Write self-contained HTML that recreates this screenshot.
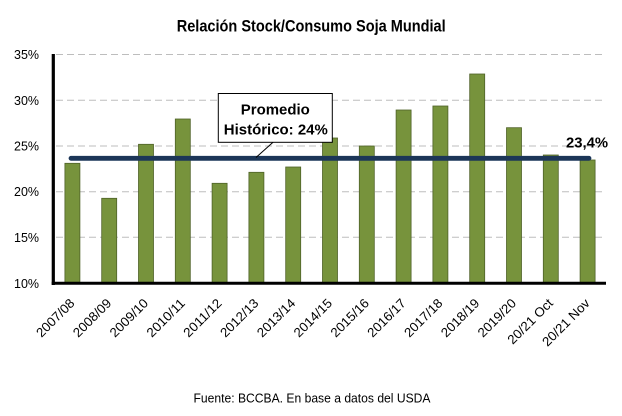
<!DOCTYPE html>
<html>
<head>
<meta charset="utf-8">
<style>
  html, body { margin:0; padding:0; background:#ffffff; }
  body { width:622px; height:416px; overflow:hidden; }
  svg { display:block; }
  text { font-family: "Liberation Sans", Arial, sans-serif; fill:#000; }
</style>
</head>
<body>
<svg width="622" height="416" viewBox="0 0 622 416" xmlns="http://www.w3.org/2000/svg">
  <rect x="0" y="0" width="622" height="416" fill="#ffffff"/>

  <!-- Title -->
  <text x="176.7" y="31.5" font-size="17" font-weight="bold" textLength="269" lengthAdjust="spacingAndGlyphs">Relación Stock/Consumo Soja Mundial</text>

  <!-- Gridlines -->
  <g stroke="#bdbdbd" stroke-width="1" stroke-dasharray="7,4">
    <line x1="56" y1="54.5" x2="606" y2="54.5"/>
    <line x1="56" y1="100.3" x2="606" y2="100.3"/>
    <line x1="56" y1="146" x2="606" y2="146"/>
    <line x1="56" y1="191.7" x2="606" y2="191.7"/>
    <line x1="56" y1="237.3" x2="606" y2="237.3"/>
  </g>

  <!-- Y labels -->
  <g font-size="13" text-anchor="end">
    <text x="39" y="59" textLength="25" lengthAdjust="spacingAndGlyphs">35%</text>
    <text x="39" y="104.8" textLength="25" lengthAdjust="spacingAndGlyphs">30%</text>
    <text x="39" y="150.5" textLength="25" lengthAdjust="spacingAndGlyphs">25%</text>
    <text x="39" y="196.2" textLength="25" lengthAdjust="spacingAndGlyphs">20%</text>
    <text x="39" y="241.8" textLength="25" lengthAdjust="spacingAndGlyphs">15%</text>
    <text x="39" y="288" textLength="25" lengthAdjust="spacingAndGlyphs">10%</text>
  </g>

  <!-- Bars -->
  <g fill="#77933c" stroke="#4f6228" stroke-width="0.8">
    <rect x="64.9" y="163.3" width="15" height="120.2"/>
    <rect x="101.7" y="198.3" width="15" height="85.2"/>
    <rect x="138.5" y="144.3" width="15" height="139.2"/>
    <rect x="175.3" y="119" width="15" height="164.5"/>
    <rect x="212.1" y="183.3" width="15" height="100.2"/>
    <rect x="248.9" y="172.3" width="15" height="111.2"/>
    <rect x="285.7" y="167" width="15" height="116.5"/>
    <rect x="322.5" y="138" width="15" height="145.5"/>
    <rect x="359.3" y="146" width="15" height="137.5"/>
    <rect x="396.1" y="110" width="15" height="173.5"/>
    <rect x="432.9" y="106" width="15" height="177.5"/>
    <rect x="469.7" y="74" width="15" height="209.5"/>
    <rect x="506.5" y="127.7" width="15" height="155.8"/>
    <rect x="543.3" y="155" width="15" height="128.5"/>
    <rect x="580.1" y="160" width="15" height="123.5"/>
  </g>

  <!-- Axes -->
  <line x1="53.3" y1="54" x2="53.3" y2="285" stroke="#000" stroke-width="3.2"/>
  <line x1="51.7" y1="283.3" x2="606" y2="283.3" stroke="#000" stroke-width="3"/>

  <!-- Average line -->
  <line x1="71" y1="158.3" x2="589" y2="158.3" stroke="#1c3658" stroke-width="4.8" stroke-linecap="round"/>

  <!-- Callout -->
  <line x1="273.3" y1="142" x2="256" y2="157.5" stroke="#000" stroke-width="1"/>
  <rect x="218.3" y="93.5" width="114" height="48.8" fill="#ffffff" stroke="#000" stroke-width="1"/>
  <text x="275.3" y="114.7" font-size="14.5" font-weight="bold" text-anchor="middle" textLength="69" lengthAdjust="spacingAndGlyphs">Promedio</text>
  <text x="275.8" y="134.7" font-size="14.5" font-weight="bold" text-anchor="middle" textLength="104" lengthAdjust="spacingAndGlyphs">Histórico: 24%</text>

  <!-- 23,4% label -->
  <text x="566" y="147.7" font-size="15" font-weight="bold" textLength="42" lengthAdjust="spacingAndGlyphs">23,4%</text>

  <!-- X labels -->
  <g font-size="13" text-anchor="end">
    <text transform="translate(75.4,304) rotate(-45)" textLength="48" lengthAdjust="spacingAndGlyphs">2007/08</text>
    <text transform="translate(112.2,304) rotate(-45)" textLength="48" lengthAdjust="spacingAndGlyphs">2008/09</text>
    <text transform="translate(149,304) rotate(-45)" textLength="48" lengthAdjust="spacingAndGlyphs">2009/10</text>
    <text transform="translate(185.8,304) rotate(-45)" textLength="48" lengthAdjust="spacingAndGlyphs">2010/11</text>
    <text transform="translate(222.6,304) rotate(-45)" textLength="48" lengthAdjust="spacingAndGlyphs">2011/12</text>
    <text transform="translate(259.4,304) rotate(-45)" textLength="48" lengthAdjust="spacingAndGlyphs">2012/13</text>
    <text transform="translate(296.2,304) rotate(-45)" textLength="48" lengthAdjust="spacingAndGlyphs">2013/14</text>
    <text transform="translate(333,304) rotate(-45)" textLength="48" lengthAdjust="spacingAndGlyphs">2014/15</text>
    <text transform="translate(369.8,304) rotate(-45)" textLength="48" lengthAdjust="spacingAndGlyphs">2015/16</text>
    <text transform="translate(406.6,304) rotate(-45)" textLength="48" lengthAdjust="spacingAndGlyphs">2016/17</text>
    <text transform="translate(443.4,304) rotate(-45)" textLength="48" lengthAdjust="spacingAndGlyphs">2017/18</text>
    <text transform="translate(480.2,304) rotate(-45)" textLength="48" lengthAdjust="spacingAndGlyphs">2018/19</text>
    <text transform="translate(517,304) rotate(-45)" textLength="48" lengthAdjust="spacingAndGlyphs">2019/20</text>
    <text transform="translate(553.8,304) rotate(-45)" textLength="58" lengthAdjust="spacingAndGlyphs">20/21 Oct</text>
    <text transform="translate(590.6,304) rotate(-45)" textLength="61" lengthAdjust="spacingAndGlyphs">20/21 Nov</text>
  </g>

  <!-- Footer -->
  <text x="193.5" y="402.5" font-size="13" textLength="237" lengthAdjust="spacingAndGlyphs">Fuente: BCCBA. En base a datos del USDA</text>
</svg>
</body>
</html>
